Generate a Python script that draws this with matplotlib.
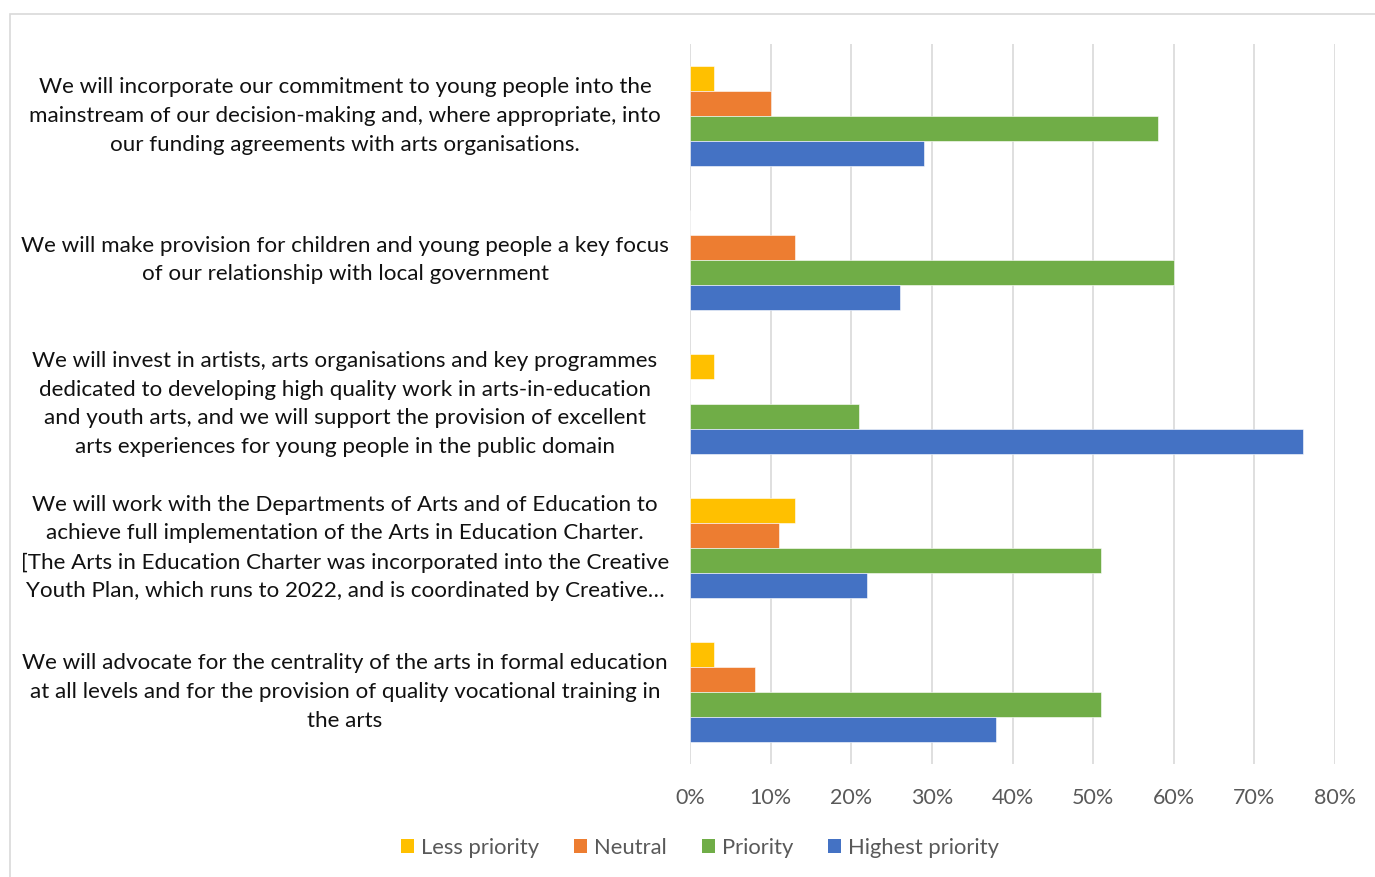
import matplotlib.pyplot as plt
import numpy as np
from matplotlib.patches import Rectangle, Patch
from matplotlib.transforms import blended_transform_factory

plt.rcParams["font.family"] = ["Lato", "DejaVu Sans"]

# --- data -------------------------------------------------------------------
statements = [
    "We will incorporate our commitment to young people into the\n"
    "mainstream of our decision-making and, where appropriate, into\n"
    "our funding agreements with arts organisations.",
    "We will make provision for children and young people a key focus\n"
    "of our relationship with local government",
    "We will invest in artists, arts organisations and key programmes\n"
    "dedicated to developing high quality work in arts-in-education\n"
    "and youth arts, and we will support the provision of excellent\n"
    "arts experiences for young people in the public domain",
    "We will work with the Departments of Arts and of Education to\n"
    "achieve full implementation of the Arts in Education Charter.\n"
    "[The Arts in Education Charter was incorporated into the Creative\n"
    "Youth Plan, which runs to 2022, and is coordinated by Creative\u2026",
    "We will advocate for the centrality of the arts in formal education\n"
    "at all levels and for the provision of quality vocational training in\n"
    "the arts",
]
series_names = ["Less priority", "Neutral", "Priority", "Highest priority"]
less_priority = [3, 0, 3, 13, 3]
neutral = [10, 13, 0, 11, 8]
priority = [58, 60, 21, 51, 51]
highest_priority = [29, 26, 76, 22, 38]
x_ticks = [0, 10, 20, 30, 40, 50, 60, 70, 80]

colors = ["#FFC000", "#ED7D31", "#70AD47", "#4472C4"]
series = [less_priority, neutral, priority, highest_priority]

# --- figure -----------------------------------------------------------------
fig = plt.figure(figsize=(13.75, 8.77), dpi=100)
ax = fig.add_axes([690 / 1375, 1 - 764 / 877, 645 / 1375, 720 / 877])

# chart frame
fig.patches.append(Rectangle((10 / 1375, -0.01), 1.0, 1 - 14 / 877 + 0.01,
                             transform=fig.transFigure, fill=False,
                             edgecolor="#D9D9D9", linewidth=1.2))

y = np.arange(len(statements))
h = 0.172
for i, (vals, col) in enumerate(zip(series, colors)):
    ax.barh(y + (i - 1.5) * h, vals, height=h, color=col,
            edgecolor="white", linewidth=0.4, zorder=3)

ax.set_xlim(0, 80)
ax.set_ylim(len(statements) - 0.5, -0.5)
ax.set_xticks(x_ticks)
ax.set_xticklabels([f"{t}%" for t in x_ticks])
ax.tick_params(axis="x", length=0, pad=17, labelsize=15.5, labelcolor="#595959")
ax.set_yticks([])
ax.grid(axis="x", color="#D9D9D9", linewidth=1.2, zorder=0)
for s in ax.spines.values():
    s.set_visible(False)

# statement labels, centred in the left column
label_tr = blended_transform_factory(fig.transFigure, ax.transData)
for yi, txt in zip(y, statements):
    ax.text(345 / 1375, yi, txt, transform=label_tr,
            ha="center", va="center", fontsize=16.1, color="#111111",
            linespacing=1.55)

handles = [Patch(facecolor=c, edgecolor="none") for c in colors]
fig.legend(handles, series_names, loc="center", bbox_to_anchor=(700 / 1375, 1 - 848 / 877),
           ncol=4, frameon=False, fontsize=15.8, labelcolor="#595959",
           handlelength=0.6, handleheight=0.6, handletextpad=0.3, columnspacing=1.6)

fig.savefig("out.png", dpi=100)
